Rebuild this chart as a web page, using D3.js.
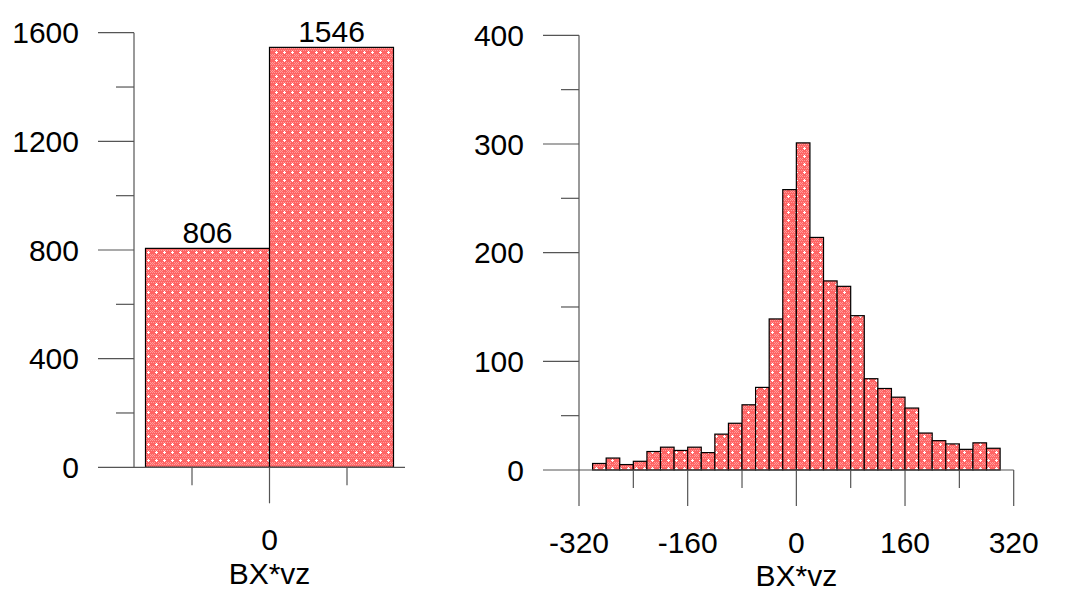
<!DOCTYPE html>
<html><head><meta charset="utf-8">
<script src="https://cdn.jsdelivr.net/npm/d3@7"></script>
<style>
html,body{margin:0;padding:0;background:#fff;}
text{font-family:"Liberation Sans",Arial,sans-serif;font-size:30px;fill:#000;}
</style></head>
<body><svg id="c" width="1067" height="604"></svg>
<script>
// ---- data ----
const leftBinEdges = [-400, 0, 400];
const leftCounts = [806, 1546];
const leftYTicks = [0, 400, 800, 1200, 1600];
const leftYMinor = [200, 600, 1000, 1400];
const leftXTicks = [0];
const leftXMinor = [-250, 250];

const rightBinStart = -300;
const rightBinWidth = 20;
const rightCounts = [6,11,5,8,17,21,18,21,16,33,43,60,76,139,258,301,214,174,169,142,84,75,67,57,34,27,24,19,25,20];
const rightYTicks = [0, 100, 200, 300, 400];
const rightYMinor = [50, 150, 250, 350];
const rightXTicks = [-320, -160, 0, 160, 320];
const rightXMinor = [-240, -80, 80, 240];
const xLabel = "BX*vz";

const svg = d3.select("#c");
const AX = "#555";

// pattern: salmon-red fill with white pluses
const defs = svg.append("defs");
const pat = defs.append("pattern").attr("id","pat").attr("patternUnits","userSpaceOnUse")
  .attr("width",8).attr("height",8);
pat.append("rect").attr("width",8).attr("height",8).attr("fill","#ff6464");
pat.append("path").attr("d","M0,0h1v1h-1zM2,0h1v1h-1zM4,0h1v1h-1zM6,0h1v1h-1zM1,2h1v1h-1zM3,2h1v1h-1zM5,2h1v1h-1zM7,2h1v1h-1zM0,6h1v1h-1zM2,6h1v1h-1zM6,6h1v1h-1zM1,7h1v1h-1zM7,7h1v1h-1z")
  .attr("fill","#ff9c9c");
pat.append("rect").attr("x",3).attr("y",4).attr("width",3).attr("height",1).attr("fill","#fff");
pat.append("rect").attr("x",4).attr("y",3).attr("width",1).attr("height",3).attr("fill","#fff");

function hline(g,x1,x2,y){g.append("line").attr("x1",x1).attr("x2",x2).attr("y1",y).attr("y2",y).attr("stroke",AX).attr("stroke-width",1.2);}
function vline(g,x,y1,y2){g.append("line").attr("x1",x).attr("x2",x).attr("y1",y1).attr("y2",y2).attr("stroke",AX).attr("stroke-width",1.2);}

// ---- left chart ----
{
  const g = svg.append("g");
  const x = d3.scaleLinear().domain([-400,400]).range([145.5,393.5]);
  const y = d3.scaleLinear().domain([0,1600]).range([467.3,32.7]);
  const yAxisX = 134, majorLen = 36, minorLen = 18;
  const bins = leftCounts.map((c,i)=>({x0:leftBinEdges[i],x1:leftBinEdges[i+1],c}));
  g.selectAll("rect.bar").data(bins).enter().append("rect").attr("class","bar")
    .attr("x",d=>x(d.x0)).attr("width",d=>x(d.x1)-x(d.x0))
    .attr("y",d=>y(d.c)).attr("height",d=>y(0)-y(d.c))
    .attr("fill","url(#pat)").attr("stroke","#000").attr("stroke-width",1.2);
  g.selectAll("text.bl").data(bins).enter().append("text").attr("class","bl")
    .attr("x",d=>(x(d.x0)+x(d.x1))/2).attr("y",d=>y(d.c)-5).attr("text-anchor","middle").text(d=>d.c);
  // y axis
  vline(g,yAxisX,y(1600),y(0));
  leftYTicks.forEach(t=>{ if(t>0) hline(g,yAxisX-majorLen,yAxisX,y(t)); });
  leftYMinor.forEach(t=>hline(g,yAxisX-minorLen,yAxisX,y(t)));
  g.selectAll("text.yl").data(leftYTicks).enter().append("text")
    .attr("x",yAxisX-majorLen-19).attr("y",d=>y(d)+10.6).attr("text-anchor","end").text(d=>d);
  // x axis
  hline(g,yAxisX-majorLen,405,y(0));
  leftXTicks.forEach(t=>vline(g,x(t),y(0),y(0)+36));
  leftXMinor.forEach(t=>vline(g,x(t),y(0),y(0)+18));
  g.selectAll("text.xl").data(leftXTicks).enter().append("text")
    .attr("x",d=>x(d)).attr("y",550).attr("text-anchor","middle").text(d=>d);
  g.append("text").attr("x",x(0)).attr("y",584).attr("text-anchor","middle").text(xLabel);
}

// ---- right chart ----
{
  const g = svg.append("g");
  const x = d3.scaleLinear().domain([-320,320]).range([579,1013.7]);
  const y = d3.scaleLinear().domain([0,400]).range([470,35.3]);
  const yAxisX = 579, majorLen = 36, minorLen = 18;
  const bins = rightCounts.map((c,i)=>({x0:rightBinStart+i*rightBinWidth,x1:rightBinStart+(i+1)*rightBinWidth,c}));
  g.selectAll("rect.bar").data(bins).enter().append("rect").attr("class","bar")
    .attr("x",d=>x(d.x0)).attr("width",d=>x(d.x1)-x(d.x0))
    .attr("y",d=>y(d.c)).attr("height",d=>y(0)-y(d.c))
    .attr("fill","url(#pat)").attr("stroke","#000").attr("stroke-width",1.2);
  // y axis
  vline(g,yAxisX,y(400),y(0)+36);
  rightYTicks.forEach(t=>{ if(t>0) hline(g,yAxisX-majorLen,yAxisX,y(t)); });
  rightYMinor.forEach(t=>hline(g,yAxisX-minorLen,yAxisX,y(t)));
  g.selectAll("text.yl").data(rightYTicks).enter().append("text")
    .attr("x",yAxisX-majorLen-19).attr("y",d=>y(d)+10.6).attr("text-anchor","end").text(d=>d);
  // x axis
  hline(g,yAxisX-majorLen,x(320),y(0));
  rightXTicks.forEach(t=>{ if(t>-320) vline(g,x(t),y(0),y(0)+36); });
  rightXMinor.forEach(t=>vline(g,x(t),y(0),y(0)+18));
  g.selectAll("text.xl").data(rightXTicks).enter().append("text")
    .attr("x",d=>x(d)).attr("y",553).attr("text-anchor","middle").text(d=>d);
  g.append("text").attr("x",x(0)).attr("y",586).attr("text-anchor","middle").text(xLabel);
}
</script></body></html>
